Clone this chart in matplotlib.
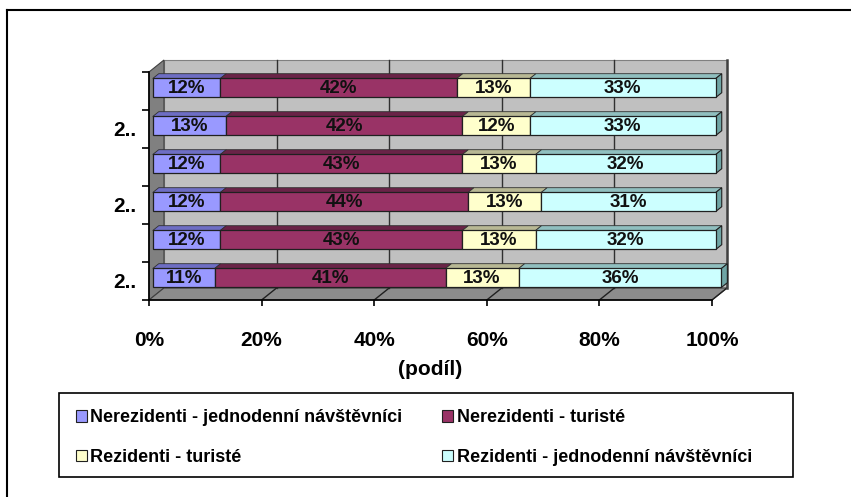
import matplotlib
matplotlib.use("Agg")
import matplotlib.pyplot as plt
from matplotlib.patches import Polygon, Rectangle, Patch
from matplotlib.lines import Line2D
import numpy as np

plt.rcParams["font.family"] = ["Liberation Sans", "DejaVu Sans"]

# rows listed top to bottom, as in the picture
row_labels = ["2..", "2..", "2..", "2..", "2..", "2.."]
show_label = [False, True, False, True, False, True]
series_names = ["Nerezidenti - jednodenní návštěvníci", "Nerezidenti - turisté",
                "Rezidenti - turisté", "Rezidenti - jednodenní návštěvníci"]
nerez_jedn = [12, 13, 12, 12, 12, 11]
nerez_tur = [42, 42, 43, 44, 43, 41]
rez_tur = [13, 12, 13, 13, 13, 13]
rez_jedn = [33, 33, 32, 31, 32, 36]
x_ticks = [0, 20, 40, 60, 80, 100]

face_colors = ["#9999FF", "#993366", "#FFFFCC", "#CCFFFF"]
top_colors = ["#6E6EC4", "#6A2347", "#B8B894", "#90BFBF"]
side_color = "#6FA5A5"

# depth vector of the fake 3D box (data units: % and rows)
DX, DY = 2.66, 0.316
T0, T1 = 0.25, 0.65     # bar front / back depth fraction
BAR_H = 0.5

W, H = 851, 497
fig = plt.figure(figsize=(W / 100, H / 100), dpi=100)
ax = fig.add_axes([92.7 / W, (H - 319) / H, 675.6 / W, 269.8 / H])
ax.set_xlim(-10, 110)
ax.set_ylim(-0.5, 6.6)
ax.patch.set_visible(False)

n = len(row_labels)
series = np.array([nerez_jedn, nerez_tur, rez_tur, rez_jedn])[:, ::-1]  # bottom row first

# walls and floor
ax.add_patch(Polygon([(DX, DY), (100 + DX, DY), (100 + DX, n + DY), (DX, n + DY)],
                     closed=True, facecolor="#C0C0C0", edgecolor="#808080", lw=0.8, zorder=0.5))
ax.add_patch(Polygon([(0, 0), (DX, DY), (DX, n + DY), (0, n)],
                     closed=True, facecolor="#808080", edgecolor="#404040", lw=0.8, zorder=0.6))
ax.add_patch(Polygon([(0, 0), (100, 0), (100 + DX, DY), (DX, DY)],
                     closed=True, facecolor="#8C8C8C", edgecolor="#404040", lw=0.8, zorder=0.6))
for xt in x_ticks[1:-1]:
    ax.plot([xt + DX, xt + DX], [DY, n + DY], color="#303030", lw=1.0, zorder=0.7)
for xt in x_ticks[1:]:
    ax.plot([xt, xt + DX], [0, DY], color="#202020", lw=1.0, zorder=0.7)
ax.plot([100 + DX, 100 + DX], [DY, n + DY], color="#404040", lw=1.8, zorder=0.7)

# stacked bars
ddx, ddy = (T1 - T0) * DX, (T1 - T0) * DY
for i in range(n):
    yc = i + 0.5 + T0 * DY
    y_top = yc + BAR_H / 2
    y_bot = yc - BAR_H / 2
    left = 0.0
    for s in range(len(series)):
        v = series[s, i]
        l = left + T0 * DX
        r = l + v
        ax.barh(yc, v, left=l, height=BAR_H, color=face_colors[s],
                edgecolor="#202020", lw=0.9, zorder=2)
        ax.add_patch(Polygon([(l, y_top), (r, y_top), (r + ddx, y_top + ddy), (l + ddx, y_top + ddy)],
                             closed=True, facecolor=top_colors[s], edgecolor="#303030",
                             lw=0.6, zorder=1.9))
        if s == len(series) - 1:
            ax.add_patch(Polygon([(r, y_bot), (r, y_top), (r + ddx, y_top + ddy), (r + ddx, y_bot + ddy)],
                                 closed=True, facecolor=side_color, edgecolor="#202020",
                                 lw=0.8, zorder=1.9))
        ax.text(l + v / 2, yc - 0.02, f"{v}%", ha="center", va="center",
                fontsize=13.5, fontweight="bold", color="#111111", zorder=3)
        left += v

# axes
for side in ["top", "right"]:
    ax.spines[side].set_visible(False)
ax.spines["left"].set_position(("data", 0))
ax.spines["left"].set_bounds(0, n)
ax.spines["bottom"].set_position(("data", 0))
ax.spines["bottom"].set_bounds(0, 100)
ax.spines["left"].set_linewidth(1.2)
ax.spines["bottom"].set_linewidth(1.2)

ax.set_xticks(x_ticks)
ax.set_xticklabels([f"{t}%" for t in x_ticks], fontsize=15, fontweight="bold")
ax.tick_params(axis="x", direction="out", length=4.5, width=1.2, pad=18)

labels_bottom_up = row_labels[::-1]
shown_bottom_up = show_label[::-1]
ax.set_yticks([i + 0.5 for i in range(n) if shown_bottom_up[i]])
ax.set_yticklabels([labels_bottom_up[i] for i in range(n) if shown_bottom_up[i]],
                   fontsize=15, fontweight="bold")
ax.set_yticks(range(n + 1), minor=True)
ax.tick_params(axis="y", which="major", length=0, pad=9)
ax.tick_params(axis="y", which="minor", direction="out", length=5, width=1.2)

ax.set_xlabel("(podíl)", fontsize=15, fontweight="bold", labelpad=7)

# legend
handles = [Patch(facecolor=c, edgecolor="#202020", lw=0.8) for c in face_colors]
order = [0, 2, 1, 3]
fig.legend([handles[k] for k in order], [series_names[k] for k in order],
           ncol=2, mode="expand", loc="center",
           bbox_to_anchor=(76 / W, (H - 437.5) / H - 0.001, (752 - 76) / W, 0.002),
           frameon=False, borderpad=0, borderaxespad=0,
           prop={"size": 13, "weight": "bold"},
           handlelength=0.6, handleheight=0.6, handletextpad=0.2, labelspacing=1.25,
           columnspacing=1.0)
fig.add_artist(Rectangle((59 / W, (H - 477) / H), (793 - 59) / W, 84 / H,
                         transform=fig.transFigure, fill=False, edgecolor="black", lw=1.2))

# outer frame (cropped at right and bottom)
fig.add_artist(Line2D([7 / W, 1], [1 - 10 / H, 1 - 10 / H], transform=fig.transFigure,
                      color="black", lw=1.5))
fig.add_artist(Line2D([7 / W, 7 / W], [0, 1 - 10 / H], transform=fig.transFigure,
                      color="black", lw=1.5))

fig.savefig("out.png", dpi=100)
